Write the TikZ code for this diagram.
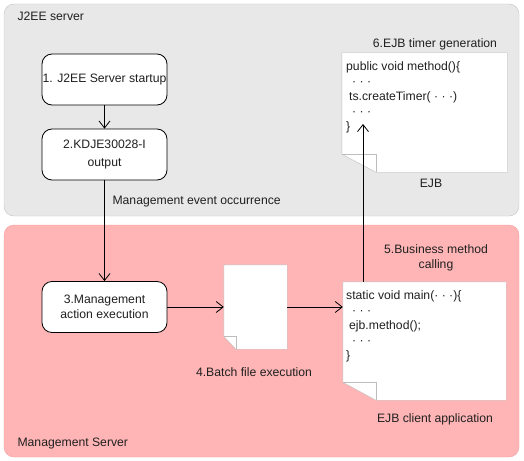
\documentclass[tikz,border=0pt]{standalone}
\usepackage{fontspec}
\setmainfont{Liberation Sans}
\usetikzlibrary{arrows.meta,positioning,calc}

\definecolor{panelgray}{HTML}{E8E8E8}
\definecolor{grayline}{HTML}{C4C4C4}
\definecolor{panelpink}{HTML}{FFB5B5}
\definecolor{pinkline}{HTML}{F4A0A0}
\definecolor{pageline}{HTML}{BDBDBD}
\definecolor{textgray}{HTML}{202020}

% sheet with its bottom left corner folded: node, fold width, fold height
\newcommand{\foldedpage}[3]{%
	\filldraw[pageline, fill=white] (#1.north west) -- (#1.north east) -- (#1.south east)
		-- ($(#1.south west)+(#2,0)$) -- ($(#1.south west)+(0,-#3)$) -- cycle;
	\draw[pageline] ($(#1.south west)+(0,-#3)$) -- ($(#1.south west)+(#2,-#3)$) -- ($(#1.south west)+(#2,0)$);
}

\begin{document}
\begin{tikzpicture}[x=1pt, y=-1pt, >={Straight Barb[length=7pt,width=11pt]},
	font=\fontsize{12.2}{15}\selectfont, text=textgray]
	\tikzstyle{action}=[draw=black, fill=white, line width=0.8pt, rounded corners=10pt,
		minimum width=125pt, minimum height=51pt, align=center, inner sep=0pt]
	\tikzstyle{flow}=[->, line width=0.8pt, black]
	\tikzstyle{code}=[anchor=north west, align=left, inner sep=0pt]

	\useasboundingbox (0,0) rectangle (524,460);

	% the two servers
	\draw[fill=panelgray, draw=grayline, rounded corners=10pt] (4,4) rectangle (519,216);
	\draw[fill=panelpink, draw=pinkline, rounded corners=10pt] (4,225) rectangle (519,457);
	\node[anchor=west] (j2ee)  at (14,16)  {J2EE server};
	\node[anchor=west] (mgmt)  at (14,444) {Management Server};

	% steps
	\node[action] (startup) at (104.5,79.5)  {1. J2EE Server startup};
	\node[action] (msg)     at (104.5,154.5) {2.KDJE30028-I\\[3pt]output};
	\node[action] (act)     at (104.5,307)   {3.Management\\action execution};

	% sheets
	\node[minimum width=63pt, minimum height=84pt, inner sep=0pt]   (bat) at (255.5,307) {};
	\node[minimum width=163pt, minimum height=118pt, inner sep=0pt] (cli) at (424.5,341) {};
	\node[minimum width=165pt, minimum height=119pt, inner sep=0pt] (ejb) at (424.5,112.5) {};
	\foldedpage{bat}{12}{13}
	\foldedpage{cli}{33}{18}
	\foldedpage{ejb}{34}{18}

	\node[code] (clicode) at (346,290) {static void main(· · ·)\{\\
		\hspace*{6pt}· · ·\\
		\hspace*{3pt}ejb.method();\\
		\hspace*{6pt}· · ·\\
		\}};
	\node[code] (ejbcode) at (346,61) {public void method()\{\\
		\hspace*{6pt}· · ·\\
		\hspace*{3pt}ts.createTimer( · · ·)\\
		\hspace*{6pt}· · ·\\
		\}};

	% labels
	\node (event)  [anchor=west] at (109,202) {Management event occurrence};
	\node (batlbl) at (254,372)   {4.Batch file execution};
	\node (call)   [align=center] at (436,257.5) {5.Business method\\calling};
	\node (timer)  at (435,44)    {6.EJB timer generation};
	\node (ejblbl) at (431,183)   {EJB};
	\node (clilbl) at (435,419)   {EJB client application};

	% connectors
	\coordinate (tip) at (363,124);
	\draw[flow] (startup) -- (msg);
	\draw[flow] (msg) -- (act);
	\draw[flow] (act) -- (bat);
	\draw[flow] (bat.east) -- (bat.east -| cli.west);
	\draw[flow] (cli.north -| tip) -- (tip);
\end{tikzpicture}
\end{document}
